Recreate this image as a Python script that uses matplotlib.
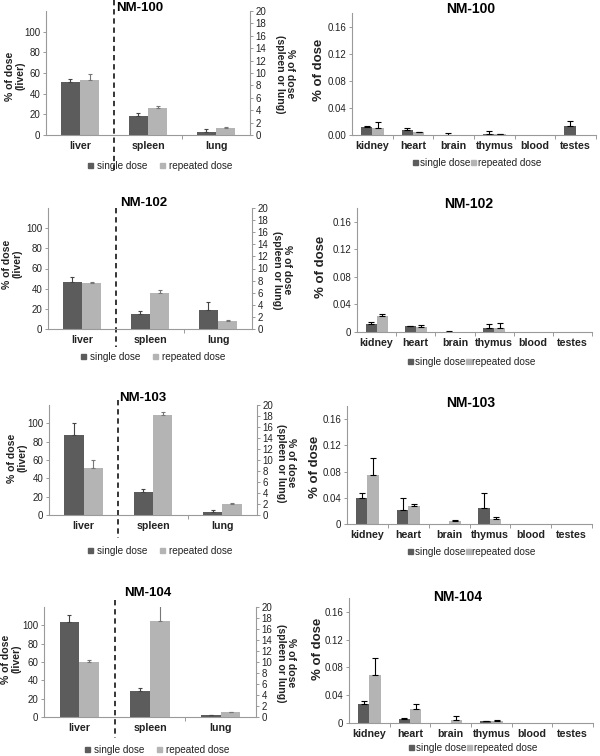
import numpy as np
import matplotlib
matplotlib.use("Agg")
import matplotlib.pyplot as plt
from matplotlib.patches import Patch

plt.rcParams['font.family'] = ['Liberation Sans', 'DejaVu Sans']

names = ['NM-100', 'NM-102', 'NM-103', 'NM-104']
left_organs = ['liver', 'spleen', 'lung']
right_organs = ['kidney', 'heart', 'brain', 'thymus', 'blood', 'testes']

# liver on the left axis (0-120), spleen and lung on the right axis (0-20)
liver_single = [51, 46.5, 87, 104]
liver_single_err = [3, 5.5, 13, 7]
liver_repeated = [53, 46, 51, 60]
liver_repeated_err = [6, 1, 9, 2]

spleen_single = [3.0, 2.5, 4.1, 4.8]
spleen_single_err = [0.6, 0.4, 0.6, 0.5]
spleen_repeated = [4.3, 6.0, 18.2, 17.4]
spleen_repeated_err = [0.4, 0.5, 0.6, 3.0]

lung_single = [0.55, 3.2, 0.5, 0.4]
lung_single_err = [0.35, 1.3, 0.5, 0.05]
lung_repeated = [1.05, 1.4, 1.95, 0.85]
lung_repeated_err = [0.25, 0.15, 0.25, 0.12]

# other organs, one row per compound
other_single = [
    [0.012, 0.007, 0.0005, 0.002, 0, 0.013],
    [0.012, 0.0085, 0.0004, 0.0065, 0, 0],
    [0.040, 0.022, 0, 0.025, 0, 0],
    [0.027, 0.006, 0, 0.0028, 0, 0],
]
other_single_err = [
    [0.002, 0.004, 0.0025, 0.004, 0, 0.008],
    [0.0025, 0.0005, 0.0006, 0.0055, 0, 0],
    [0.008, 0.018, 0, 0.022, 0, 0],
    [0.004, 0.0015, 0, 0.0005, 0, 0],
]
other_repeated = [
    [0.011, 0.004, 0, 0.001, 0, 0],
    [0.0225, 0.0075, 0, 0.0065, 0, 0],
    [0.074, 0.028, 0.0045, 0.0075, 0, 0],
    [0.069, 0.0205, 0.004, 0.0034, 0, 0],
]
other_repeated_err = [
    [0.008, 0.001, 0, 0.001, 0, 0],
    [0.004, 0.003, 0, 0.0065, 0, 0],
    [0.027, 0.003, 0.002, 0.0035, 0, 0],
    [0.024, 0.0075, 0.006, 0.001, 0, 0],
]

W, H = 600, 756
DARK = '#5c5c5c'
LIGHT = '#b4b4b4'
SPINE = '#9a9a9a'
TXT = '#222222'
bw = 0.28

fig = plt.figure(figsize=(W / 100, H / 100), dpi=100)


def fx(x):
    return x / W


def fy(y):
    return 1 - y / H


def rect(x0, yb, w, h):
    return [fx(x0), fy(yb), w / W, h / H]


# layout in pixels: left x, bottom y, width, height
left_rects = [(46, 135, 204, 124), (48, 329, 204, 121), (49, 515, 208, 110), (44, 717, 212, 110)]
right_rects = [(352, 135, 244, 122), (357, 332, 235, 124), (347, 524, 245, 118), (349, 723, 244, 125)]
dash_spans = [(0, 170), (208, 347), (400, 538), (600, 738)]
left_titles = [(140, 8), (144, 203), (143, 398), (148, 593)]
right_titles = [(471, 9), (469, 204), (471, 403), (458, 597)]
left_leg = [(160, 166), (153, 357), (160, 551), (157, 750)]
right_leg = [(477, 163), (472, 362), (472, 552), (473, 748)]
left_ylab = [(15, 76), (12.5, 264), (17.5, 458), (11.5, 659)]
twin_ylab = [(285, 74), (282, 270), (286, 463), (286, 663)]
right_ylab = [(319, 70), (321, 267), (315, 467), (318, 649)]


def style(ax):
    ax.spines['top'].set_visible(False)
    for s in ['left', 'right', 'bottom']:
        ax.spines[s].set_color(SPINE)
        ax.spines[s].set_linewidth(0.8)
    ax.tick_params(axis='y', labelsize=7, colors=SPINE, labelcolor=TXT, length=2.5, width=0.7, pad=1.5)
    ax.tick_params(axis='x', which='major', length=0, pad=4, labelsize=7.7, labelcolor=TXT)
    ax.tick_params(axis='x', which='minor', length=3, width=0.7, colors=SPINE)


def err(ax, x, v, e, color, cap):
    v = np.asarray(v, float)
    e = np.asarray(e, float)
    m = e > 0
    ax.errorbar(np.asarray(x, float)[m], v[m], yerr=[np.zeros(m.sum()), e[m]],
                fmt='none', ecolor=color, elinewidth=0.8, capsize=cap, capthick=0.8)


for i in range(4):
    # ---- liver / spleen / lung panel
    ax = fig.add_axes(rect(*left_rects[i]))
    ax2 = ax.twinx()
    x = np.arange(3)
    ax.bar([0 - bw / 2], [liver_single[i]], bw, color=DARK)
    ax.bar([0 + bw / 2], [liver_repeated[i]], bw, color=LIGHT)
    err(ax, [0 - bw / 2], [liver_single[i]], [liver_single_err[i]], '#444444', 1.5)
    err(ax, [0 + bw / 2], [liver_repeated[i]], [liver_repeated_err[i]], '#777777', 1.5)
    s_vals = [spleen_single[i], lung_single[i]]
    r_vals = [spleen_repeated[i], lung_repeated[i]]
    ax2.bar(x[1:] - bw / 2, s_vals, bw, color=DARK)
    ax2.bar(x[1:] + bw / 2, r_vals, bw, color=LIGHT)
    err(ax2, x[1:] - bw / 2, s_vals, [spleen_single_err[i], lung_single_err[i]], '#444444', 1.5)
    err(ax2, x[1:] + bw / 2, r_vals, [spleen_repeated_err[i], lung_repeated_err[i]], '#777777', 1.5)

    ax.set_xlim(-0.5, 2.5)
    ax.set_ylim(0, 120)
    ax2.set_ylim(0, 20)
    ax.set_yticks(np.arange(0, 101, 20))
    ax2.set_yticks(np.arange(0, 21, 2))
    ax.set_xticks(x)
    ax.set_xticklabels(left_organs, fontweight='bold')
    ax.set_xticks([1.5], minor=True)
    style(ax)
    style(ax2)
    ax.spines['right'].set_visible(False)
    ax2.spines['left'].set_visible(False)
    ax2.spines['bottom'].set_visible(False)

    x0, yb, w, h = left_rects[i]
    y_top, y_bot = dash_spans[i]
    ax.plot([0.5, 0.5], [(yb - y_top) / h, (yb - y_bot) / h], transform=ax.get_xaxis_transform(),
            color='black', lw=1.1, ls=(0, (3.5, 2.5)), clip_on=False)

    fig.text(fx(left_titles[i][0]), fy(left_titles[i][1]), names[i], ha='center', va='center',
             fontsize=9.5, fontweight='bold', color='black')
    fig.text(fx(left_ylab[i][0]), fy(left_ylab[i][1]), '% of dose\n(liver)', rotation=90,
             ha='center', va='center', fontsize=7.6, fontweight='bold', linespacing=1.0, color=TXT)
    fig.text(fx(twin_ylab[i][0]), fy(twin_ylab[i][1]), '% of dose\n(spleen or lung)', rotation=270,
             ha='center', va='center', fontsize=7.6, fontweight='bold', linespacing=1.0, color=TXT)

    handles = [Patch(color=DARK, label='single dose'), Patch(color=LIGHT, label='repeated dose')]
    ax.legend(handles=handles, loc='center', bbox_to_anchor=(fx(left_leg[i][0]), fy(left_leg[i][1])),
              bbox_transform=fig.transFigure, ncol=2, frameon=False, fontsize=7.2,
              handlelength=0.5, handleheight=0.5, handletextpad=0.4, columnspacing=1.3,
              borderpad=0, labelcolor=TXT)

    # ---- other organs panel
    axr = fig.add_axes(rect(*right_rects[i]))
    xr = np.arange(6)
    axr.bar(xr - bw / 2, other_single[i], bw, color=DARK)
    axr.bar(xr + bw / 2, other_repeated[i], bw, color=LIGHT)
    err(axr, xr - bw / 2, other_single[i], other_single_err[i], 'black', 2)
    err(axr, xr + bw / 2, other_repeated[i], other_repeated_err[i], 'black', 2)
    axr.set_xlim(-0.5, 5.5)
    axr.set_ylim(0, 0.18)
    yt = np.arange(0, 0.161, 0.04)
    axr.set_yticks(yt)
    if i == 0:
        axr.set_yticklabels(['%.2f' % v for v in yt])
    else:
        axr.set_yticklabels(['0'] + ['%.2f' % v for v in yt[1:]])
    axr.set_xticks(xr)
    axr.set_xticklabels(right_organs, fontweight='bold')
    axr.set_xticks(np.arange(0.5, 5.6, 1), minor=True)
    style(axr)
    axr.spines['right'].set_visible(False)

    fig.text(fx(right_titles[i][0]), fy(right_titles[i][1]), names[i], ha='center', va='center',
             fontsize=10, fontweight='bold', color='black')
    fig.text(fx(right_ylab[i][0]), fy(right_ylab[i][1]), '% of dose', rotation=90,
             ha='center', va='center', fontsize=9.5, fontweight='bold', color=TXT)
    axr.legend(handles=handles, loc='center', bbox_to_anchor=(fx(right_leg[i][0]), fy(right_leg[i][1])),
               bbox_transform=fig.transFigure, ncol=2, frameon=False, fontsize=7.2,
               handlelength=0.5, handleheight=0.5, handletextpad=0.2, columnspacing=0.0,
               borderpad=0, labelcolor=TXT)

fig.savefig('out.png', dpi=100)
